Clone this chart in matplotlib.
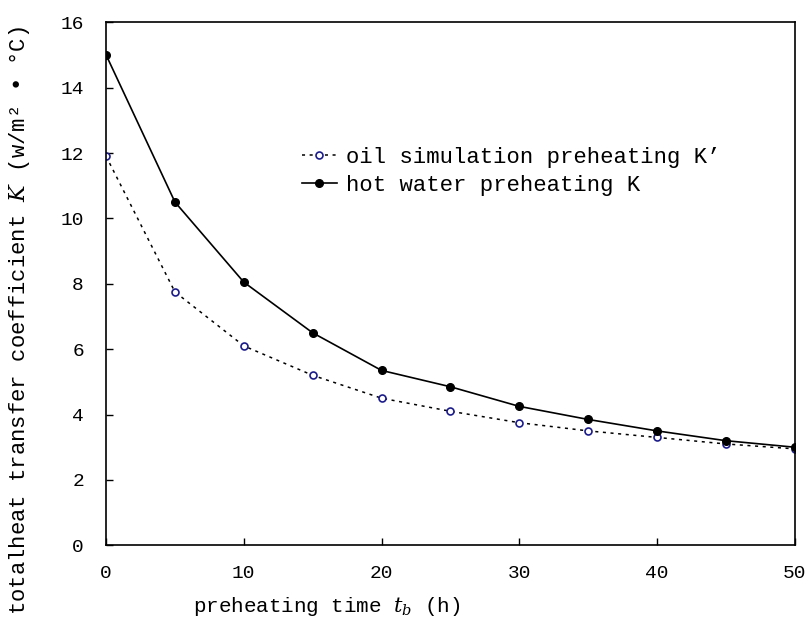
import matplotlib
matplotlib.use("Agg")
import matplotlib.pyplot as plt

# preheating time (h)
time_h = [0, 5, 10, 15, 20, 25, 30, 35, 40, 45, 50]
# hot water preheating K
k_hot_water = [15.0, 10.5, 8.05, 6.5, 5.35, 4.85, 4.25, 3.85, 3.5, 3.2, 3.0]
# oil simulation preheating K'
k_oil_sim = [11.9, 7.75, 6.1, 5.2, 4.5, 4.1, 3.75, 3.5, 3.3, 3.1, 2.95]

x_ticks = [0, 10, 20, 30, 40, 50]
y_ticks = [0, 2, 4, 6, 8, 10, 12, 14, 16]

plt.rcParams["font.family"] = ["Liberation Mono", "DejaVu Sans Mono", "DejaVu Sans"]
plt.rcParams["mathtext.fontset"] = "dejavuserif"

fig = plt.figure(figsize=(8.1, 6.37), dpi=100)
ax = fig.add_axes([0.131, 0.144, 0.85, 0.821])

ax.plot(time_h, k_oil_sim, linestyle=(0, (2, 3)), color="black", linewidth=1.1,
        marker="o", markersize=5, markerfacecolor="white",
        markeredgecolor="#1c1c8a", markeredgewidth=1.2,
        label="oil simulation preheating K’")
ax.plot(time_h, k_hot_water, linestyle="-", color="black", linewidth=1.2,
        marker="o", markersize=5.5, markerfacecolor="black",
        markeredgecolor="black", label="hot water preheating K")

ax.set_xlim(0, 50)
ax.set_ylim(0, 16)
ax.set_xticks(x_ticks)
ax.set_yticks(y_ticks)
ax.tick_params(direction="in", length=5, width=1, labelsize=14, pad=14)
ax.tick_params(axis="y", pad=16)
for side in ax.spines.values():
    side.set_linewidth(1.2)

ax.set_xlabel("preheating time $t_b$ (h)", fontsize=15)
ax.xaxis.set_label_coords(0.32, -0.095)
ax.set_ylabel("totalheat transfer coefficient $K$ (w/m² • °C)", fontsize=16)
ax.yaxis.set_label_coords(-0.108, 0.43)

ax.legend(loc="upper left", bbox_to_anchor=(0.255, 0.8), frameon=False,
          fontsize=16, handlelength=1.6, handletextpad=0.4, labelspacing=0.3)

fig.savefig("out.png", dpi=100)
